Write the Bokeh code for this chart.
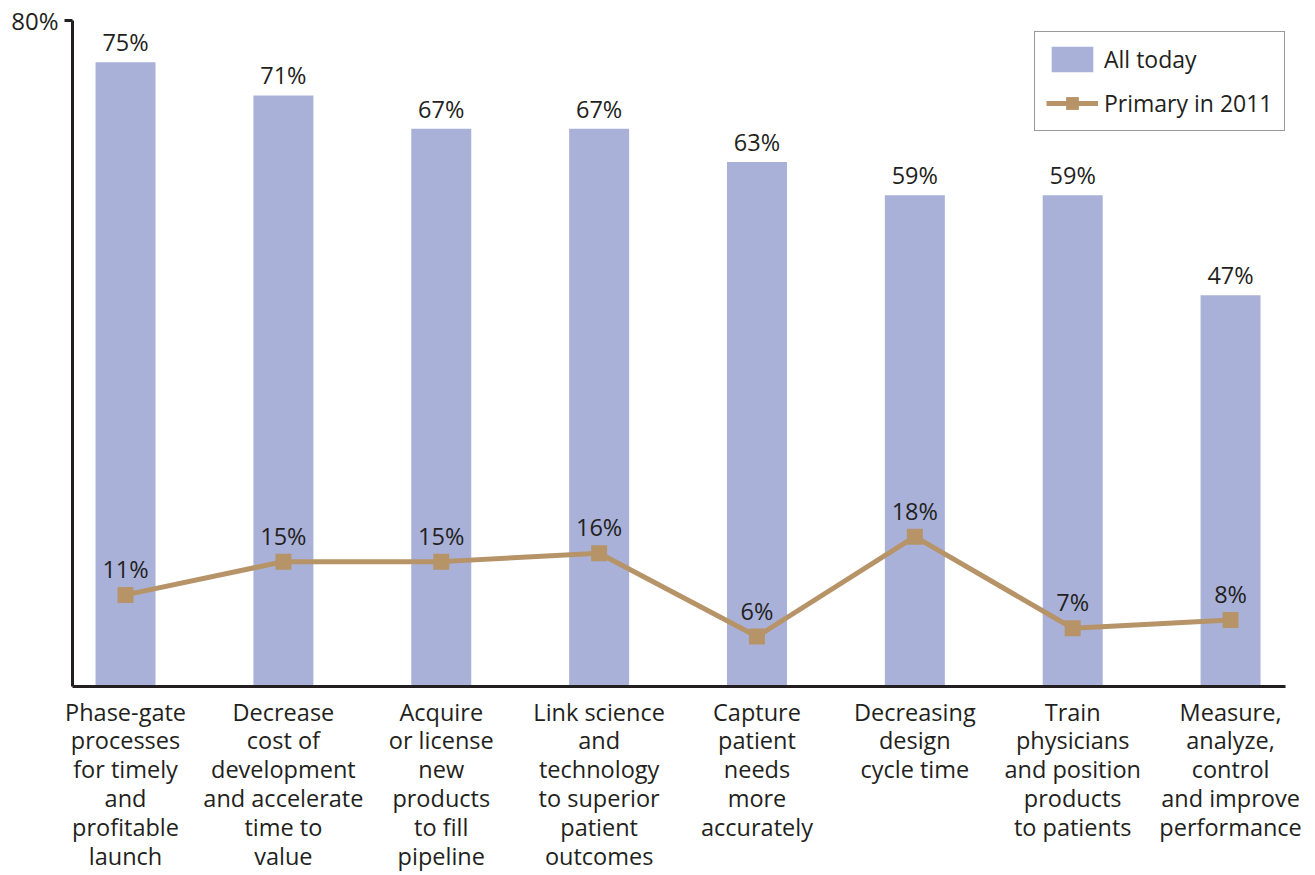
from bokeh.plotting import figure
from bokeh.models import (Range1d, FixedTicker, ColumnDataSource, LabelSet,
                          Legend, LegendItem)
from bokeh.core.properties import value
from bokeh.embed import file_html
from bokeh.resources import INLINE

categories = [
    "Phase-gate\nprocesses\nfor timely\nand\nprofitable\nlaunch",
    "Decrease\ncost of\ndevelopment\nand accelerate\ntime to\nvalue",
    "Acquire\nor license\nnew\nproducts\nto fill\npipeline",
    "Link science\nand\ntechnology\nto superior\npatient\noutcomes",
    "Capture\npatient\nneeds\nmore\naccurately",
    "Decreasing\ndesign\ncycle time",
    "Train\nphysicians\nand position\nproducts\nto patients",
    "Measure,\nanalyze,\ncontrol\nand improve\nperformance",
]
all_today = [75, 71, 67, 67, 63, 59, 59, 47]
primary_2011 = [11, 15, 15, 16, 6, 18, 7, 8]
y_ticks = [80]
y_tick_labels = {80: "80%"}
series_names = ["All today", "Primary in 2011"]

FONT = "Open Sans"
TEXT = "#231f20"
BAR = "#a9b1d9"
LINE = "#b69468"

xs = list(range(len(categories)))
src = ColumnDataSource(dict(
    x=xs,
    all=all_today,
    prim=primary_2011,
    all_lbl=[f"{v}%" for v in all_today],
    prim_lbl=[f"{v}%" for v in primary_2011],
))

p = figure(frame_width=1213, frame_height=666,
           x_range=Range1d(-0.336, 7.348), y_range=Range1d(0, 80),
           output_backend="svg", toolbar_location=None,
           min_border_left=72, min_border_top=20, min_border_right=20,
           min_border_bottom=180)
p.grid.visible = False
p.outline_line_color = None
p.background_fill_color = "white"
p.border_fill_color = "white"

bars = p.vbar(x="x", top="all", bottom=0, width=0.38, source=src,
              fill_color=BAR, line_color=None)
line = p.line("x", "prim", source=src, line_color=LINE, line_width=5)
marks = p.scatter("x", "prim", source=src, marker="square", size=16,
                  fill_color=LINE, line_color=None)

# axes
xa = p.xaxis[0]
xa.ticker = FixedTicker(ticks=xs)
xa.major_label_overrides = {i: c for i, c in zip(xs, categories)}
xa.major_tick_line_color = None
xa.minor_tick_line_color = None
xa.axis_line_width = 3
xa.axis_line_color = TEXT
xa.major_label_text_font = FONT
xa.major_label_text_font_size = "23.5px"
xa.major_label_text_color = TEXT
xa.major_label_text_line_height = 0.9
xa.major_label_standoff = 3

ya = p.yaxis[0]
ya.ticker = FixedTicker(ticks=y_ticks)
ya.major_label_overrides = y_tick_labels
ya.axis_line_width = 3
ya.axis_line_color = TEXT
ya.major_tick_line_width = 3
ya.major_tick_line_color = TEXT
ya.major_tick_out = 8
ya.major_tick_in = 0
ya.minor_tick_line_color = None
ya.major_label_text_font = FONT
ya.major_label_text_font_size = "24px"
ya.major_label_text_color = TEXT
ya.major_label_standoff = 6

# value labels
p.add_layout(LabelSet(x="x", y="all", text="all_lbl", source=src,
                      text_align="center", text_baseline="alphabetic",
                      y_offset=11, text_font=value(FONT),
                      text_font_size=value("23.5px"), text_color=TEXT))
p.add_layout(LabelSet(x="x", y="prim", text="prim_lbl", source=src,
                      text_align="center", text_baseline="alphabetic",
                      y_offset=17, text_font=value(FONT),
                      text_font_size=value("23.5px"), text_color=TEXT))

legend = Legend(items=[
    LegendItem(label=series_names[0], renderers=[bars]),
    LegendItem(label=series_names[1], renderers=[line, marks]),
], location=(962, 555))
legend.label_text_font = FONT
legend.label_text_font_size = "23px"
legend.label_text_color = TEXT
legend.glyph_width = 52
legend.glyph_height = 32
legend.label_height = 32
legend.spacing = 12
legend.padding = 11
legend.label_standoff = 6
legend.border_line_color = "#333333"
legend.border_line_width = 1.5
legend.background_fill_color = "white"
legend.background_fill_alpha = 1
p.add_layout(legend)

open("out.html", "w").write(file_html(p, INLINE))
